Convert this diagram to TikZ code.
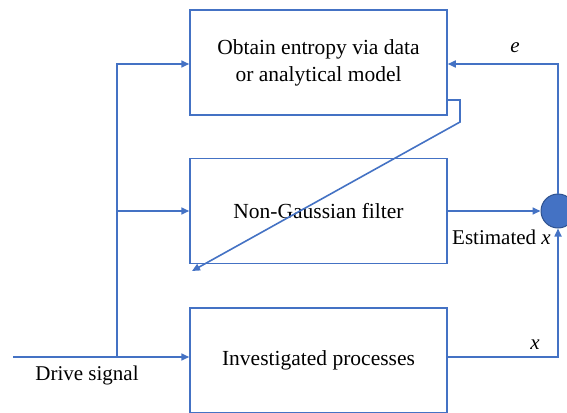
\documentclass[tikz,border=0pt]{standalone}
\usepackage{fontspec}
\setmainfont{Liberation Serif}
\usetikzlibrary{positioning, arrows.meta}

\definecolor{linkblue}{HTML}{4472C4}
\definecolor{rimblue}{HTML}{2F528F}

\begin{document}
\begin{tikzpicture}[x=1pt, y=-1pt, >={Triangle[length=8pt, width=7pt]},
    block/.style={draw=linkblue, line width=1.5pt, fill=white,
        minimum width=257pt, minimum height=105pt, align=center,
        font=\fontsize{21.5}{27}\selectfont},
    wire/.style={draw=linkblue, line width=1.6pt},
    lbl/.style={font=\fontsize{21}{25}\selectfont, inner sep=0pt}]
    \clip (0,0) rectangle (567,412);
    \useasboundingbox (0,0) rectangle (567,412);

    \node[block] (entropy) at (318.5,62.5) {Obtain entropy via data\\or analytical model};
    \node[block, below=42pt of entropy] (filter) {Non-Gaussian filter};
    \node[block, below=43pt of filter] (process) {Investigated processes};
    \node[circle, draw=rimblue, fill=linkblue, line width=1pt, minimum size=34pt, inner sep=0pt] (sum) at (558,211) {};

    \coordinate (drive) at (13,357);
    \coordinate (split) at (117,357);
    \coordinate (top) at (117,64);
    \coordinate (corner) at (558,357);
    \coordinate (back) at (558,64);

    % drive signal fans out to the three blocks
    \draw[wire, ->] (drive) -- (process.west |- drive);
    \draw[wire, ->] (split) -- (top) -- (entropy.west |- top);
    \draw[wire, ->] (filter.west -| split) -- (filter.west);

    % outputs meet at the summing point
    \draw[wire, ->] (filter.east) -- (sum.west);
    \draw[wire, ->] (process.east |- corner) -- (corner) -- (sum.south);
    \draw[wire, ->] (sum.north) -- (back) -- (entropy.east |- back);

    % entropy handed down to the filter
    \coordinate (e1) at (447,78);
    \coordinate (e2) at (447,100);
    \coordinate (e3) at (460,100);
    \coordinate (e4) at (460,122);
    \coordinate (tip) at (192,271);
    \draw[wire, ->] (e1) -- (e2) -- (e3) -- (e4) -- (tip);

    \node[lbl] (elbl) at (515,48) {\textit{e}};
    \node[lbl] (xlbl) at (535,345) {\textit{x}};
    \node[lbl, anchor=west] (estlbl) at (452,237) {Estimated \textit{x}};
    \node[lbl] (drivelbl) at (87,375) {Drive signal};
\end{tikzpicture}
\end{document}
